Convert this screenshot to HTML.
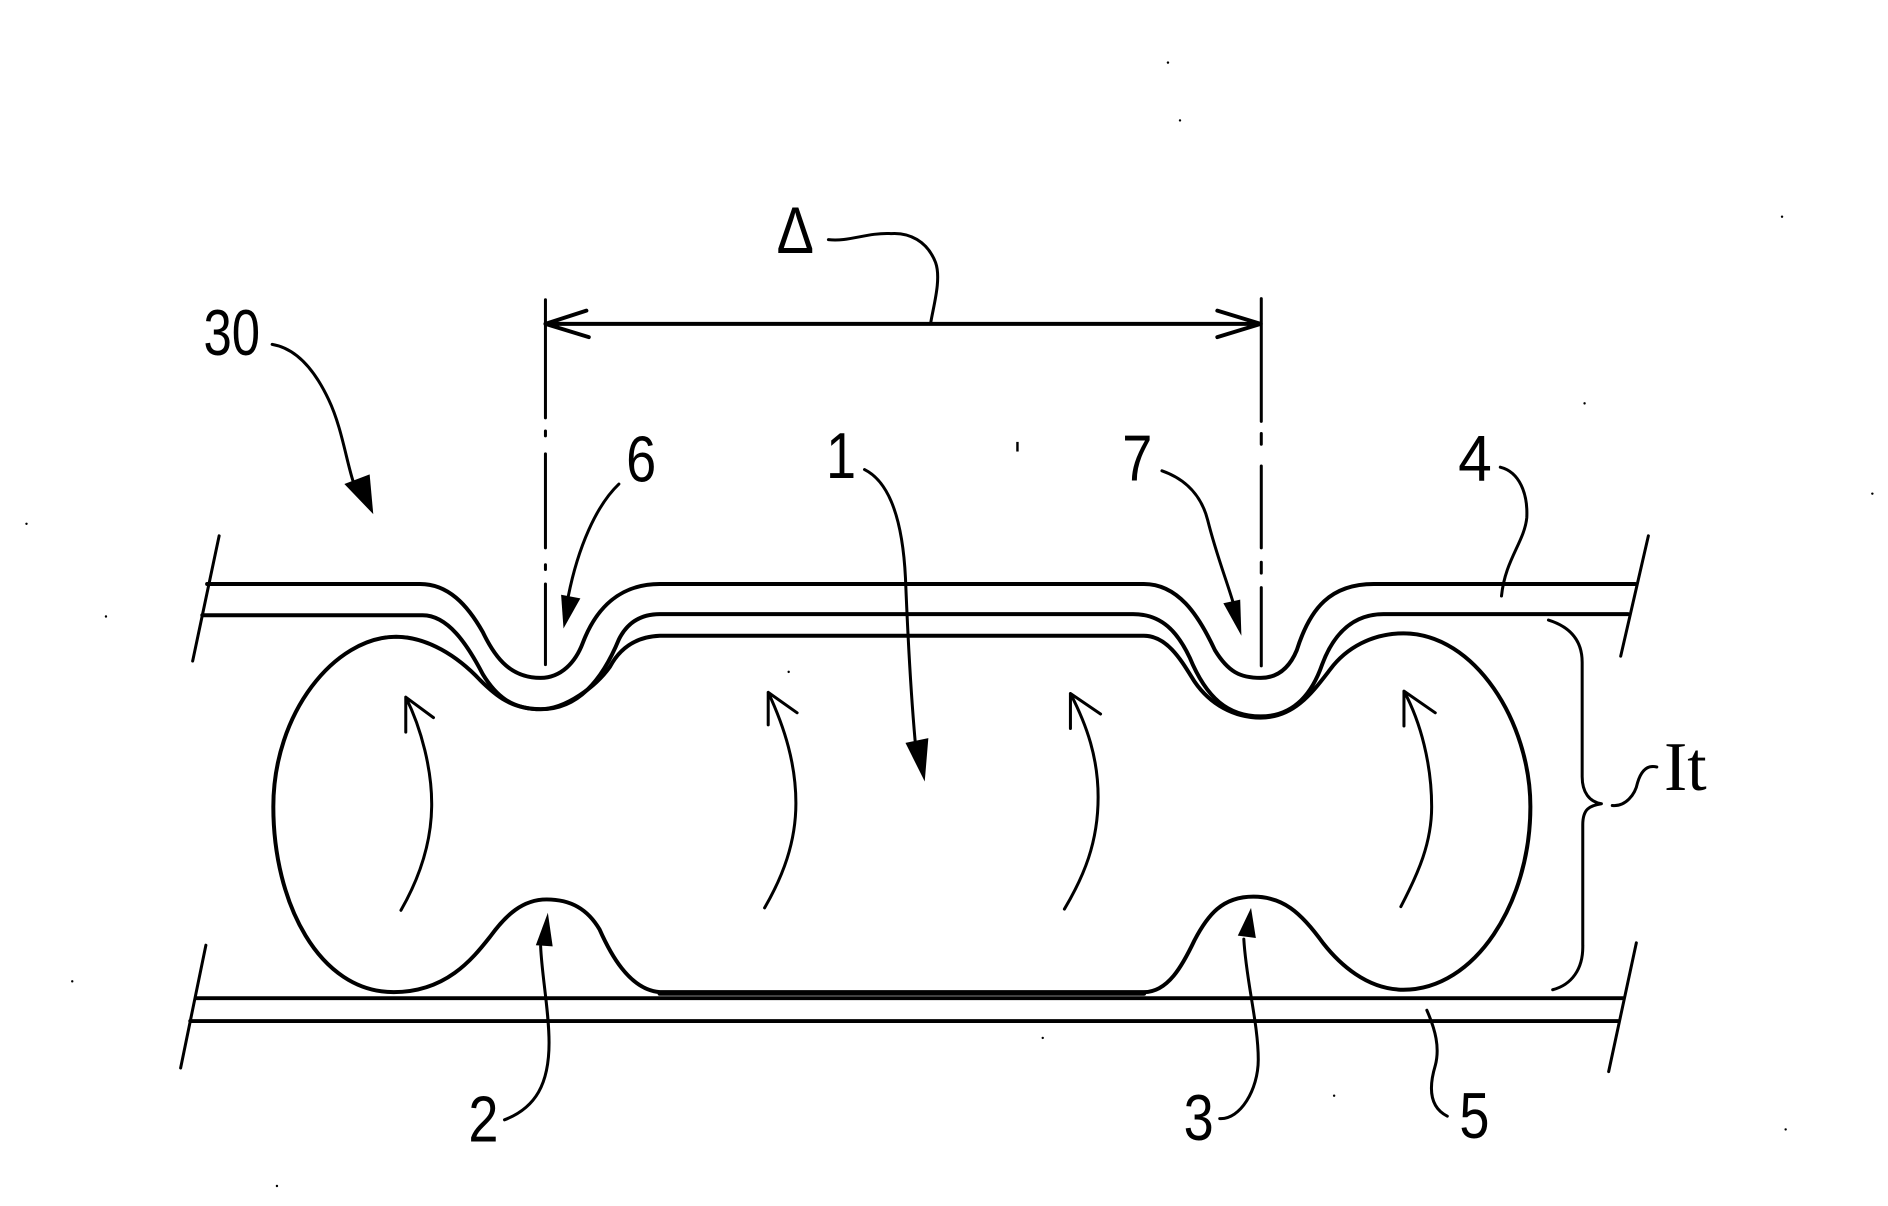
<!DOCTYPE html>
<html><head><meta charset="utf-8"><style>
html,body{margin:0;padding:0;background:#fff}
svg{display:block}
text{font-family:"Liberation Sans",sans-serif;fill:#000}
</style></head><body>
<svg width="1888" height="1206" viewBox="0 0 1568 1001.6" preserveAspectRatio="none" xmlns="http://www.w3.org/2000/svg">
<rect width="1568" height="1002" fill="#fff"/>
<g fill="none" stroke="#000" stroke-width="3.300" stroke-linecap="round" stroke-linejoin="round">
<path d="M172 485H349C372 485 388 502 401 525C412 548 425 563 449 563C466 563 478 550 484 534C495 505 515 485 548 485H950C978 485 995 510 1009 540C1020 558 1030 563 1047 563C1063 563 1072 552 1077 540C1088 505 1105 485 1141 485H1358"/>
<path d="M168 511H351C372 511 388 535 401 560C412 578 425 589 449 589C480 589 500 565 514 531C522 515 535 510 548 510H941C965 510 978 525 988 546C1002 580 1020 595 1047 595C1075 595 1090 575 1098 552C1108 525 1125 510 1149 510H1352"/>
<path d="M329 528.800C355 529 380 545 398.600 564.700C412 578 425 589 449 589C470 589 495 570 506.600 553.700C515 538 528 528.800 548 528H950C970 528 982 550 992 566C1005 585 1025 596 1047 596C1075 596 1090 575 1104.700 556C1118 538 1140 526 1165.600 526C1225 526 1271 600 1271 670C1271 750 1225 822 1165.600 822C1135 822 1112 800 1099 783.500C1080 757 1065 744.700 1041 744.700C1015 744.700 1003 760 992 781C982 802 970 824 950 824H548C522 822 506 790 498 772C488 755 474 747 454 747C434 747 420 760 407 778C392 797 370 824 327 824C265 824 227 750 227 670C227 592 278 529 329 528.800Z"/>
<path d="M163 829H1348M158 848H1344"/>
<path d="M548 825H950" stroke-width="4"/>
<path d="M453 269H1047M487 258L453 269L489 280M1011 258L1047 269L1011 280"/>
</g>
<g fill="none" stroke="#000" stroke-width="2.500" stroke-linecap="round" stroke-linejoin="round">
<path d="M182 445L160 549M1369 445L1346 545M171 785L150 887M1359 783L1336 890"/>
<path d="M453 249V347M453 377V455M453 485V552M1047.500 248V350M1047.500 387V455M1047.500 488V553"/>
<path d="M453 358V362M453 469V473M1047.500 360V369M1047.500 467V476"/>
<path d="M226 286C250 290 265 315 273 332C284 355 288 385 294 402"/>
<path d="M514 402C495 420 480 455 472 495"/>
<path d="M718 390C742 402 750 440 752 480C754 530 756 570 760 615"/>
<path d="M965 391C985 398 998 412 1003 432C1010 460 1018 480 1024 500"/>
<path d="M1246 388C1262 392 1269 410 1268 430C1266 450 1250 465 1247 495"/>
<path d="M419 930C445 920 456 900 456 866C456 840 450 810 449 786"/>
<path d="M1013 929C1030 930 1045 905 1045 880C1045 850 1035 815 1033 780"/>
<path d="M1185 839C1192 855 1196 870 1192 885C1186 905 1188 920 1202 927"/>
<path d="M688 199C705 201 720 193 740 194C755 193 770 200 777 218C782 232 775 255 773 268"/>
<path d="M1286 515C1302 520 1314 530 1314 550V645C1314 658 1320 666 1330 667.500C1320 669 1314.500 672 1314.500 685V785C1315 805 1305 818 1289.500 822"/>
<path d="M1339 669C1350 670 1358 660 1360 650C1363 640 1368 635 1376 637"/>
<path d="M333 756C345 735 358 705 358.500 670C359 640 350 605 337 579M337 608V579L360 596"/>
<path d="M635 754C650 728 661 700 661 667C661 635 652 605 638 575M638 602V575L662 592"/>
<path d="M884 755C900 728 912 700 912 662C912 630 903 603 889 576M889 605V576L914 593"/>
<path d="M1163.400 753C1178 725 1189 700 1189 670C1189 635 1180 600 1166 574M1166 603V574L1192 592"/>
</g>
<g fill="#000">
<path d="M286 402L310 427L307 394Z"/>
<path d="M466 494L468 522L482 497Z"/>
<path d="M752 617L768 649L771 613Z"/>
<path d="M1016 501L1031 528L1030 498Z"/>
<path d="M445 785L455 758L459 786Z"/>
<path d="M1028 777L1039 754L1043 779Z"/>
<circle cx="970" cy="52" r="1"/><circle cx="980" cy="100" r="1"/><rect x="844" y="367" width="2" height="8"/><circle cx="1316" cy="335" r="1"/><circle cx="1555" cy="410" r="1"/><circle cx="655" cy="558" r="1"/><circle cx="1108" cy="910" r="1"/><circle cx="866" cy="862" r="1"/><circle cx="60" cy="815" r="1"/><circle cx="22" cy="435" r="1"/><circle cx="1480" cy="180" r="1"/><circle cx="88" cy="512" r="1"/><circle cx="1483" cy="938" r="1"/><circle cx="230" cy="985" r="1"/>
</g>
<text x="169" y="295" font-size="54" textLength="47" lengthAdjust="spacingAndGlyphs">30</text>
<text x="520" y="400" font-size="54" textLength="25" lengthAdjust="spacingAndGlyphs">6</text>
<text x="686" y="397" font-size="54" textLength="25" lengthAdjust="spacingAndGlyphs">1</text>
<text x="932" y="399" font-size="54" textLength="25" lengthAdjust="spacingAndGlyphs">7</text>
<text x="1211" y="399" font-size="54" textLength="28" lengthAdjust="spacingAndGlyphs">4</text>
<text x="389" y="948" font-size="54" textLength="25" lengthAdjust="spacingAndGlyphs">2</text>
<text x="983" y="947" font-size="54" textLength="25" lengthAdjust="spacingAndGlyphs">3</text>
<text x="1212" y="945" font-size="54" textLength="25" lengthAdjust="spacingAndGlyphs">5</text>
<text x="645" y="210" font-size="55" textLength="31" lengthAdjust="spacingAndGlyphs">Δ</text>
<text x="1382" y="656" font-size="58" style="font-family:'Liberation Serif',serif">It</text>
</svg>
</body></html>
